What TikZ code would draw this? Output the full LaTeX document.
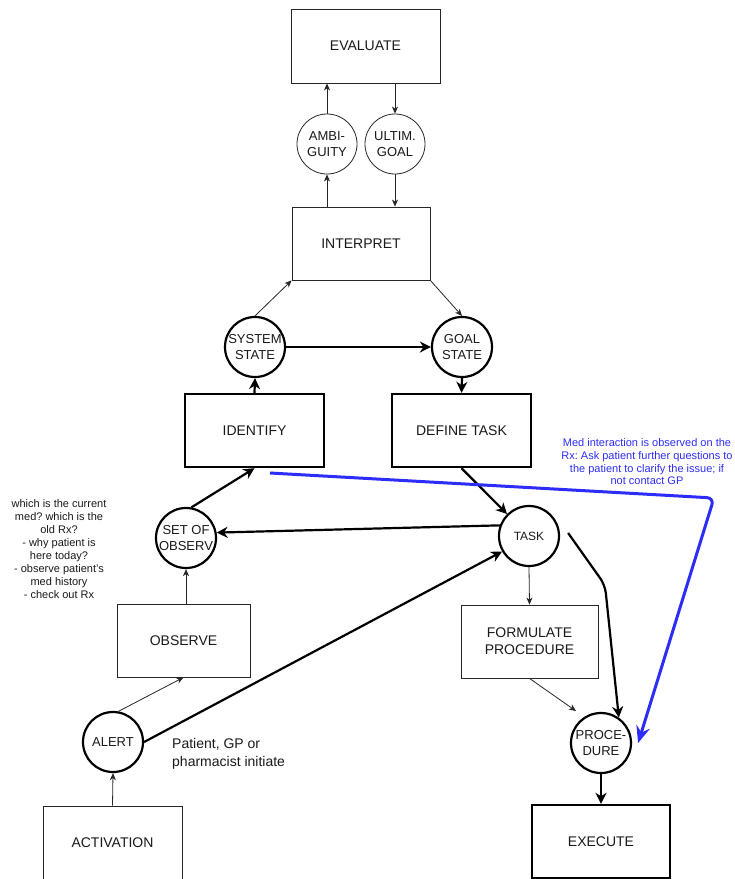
\documentclass[tikz,border=0pt]{standalone}
\usepackage{fontspec}
\setmainfont{Liberation Sans}
\usetikzlibrary{arrows.meta}
\definecolor{noteblue}{RGB}{45,45,250}
\frenchspacing
\begin{document}
\begin{tikzpicture}[x=1pt,y=-1pt,
 thinbox/.style={draw=black!85,line width=0.8pt,minimum width=139pt,minimum height=73pt,font=\fontsize{14}{17}\selectfont,align=center,inner sep=0,text=black!90},
 thickbox/.style={thinbox,line width=2.4pt,draw=black},
 thincirc/.style={circle,draw=black!85,line width=0.8pt,minimum size=60pt,inner sep=0,font=\fontsize{13}{16}\selectfont,align=center,text=black!90},
 thickcirc/.style={thincirc,draw=black,line width=2.2pt},
 thinarr/.style={line width=0.8pt,draw=black!85,-{Stealth[length=7pt,width=6pt,inset=2pt]}},
 thickarr/.style={line width=2.2pt,-{Stealth[length=11pt,width=11pt,inset=3.5pt]}},
 bluearr/.style={line width=3pt,draw=noteblue,rounded corners=7pt,-{Stealth[length=17pt,width=14pt,inset=6pt]}},
 note/.style={font=\fontsize{11}{13}\selectfont,align=center,text=black!90}]
\useasboundingbox (0,0) rectangle (735,879);

% nodes
\node[thinbox,minimum width=149pt,minimum height=74pt] (eval) at (365.5,46) {EVALUATE};
\node[thincirc] (amb) at (327,144) {AMBI-\\GUITY};
\node[thincirc] (ult) at (395,144) {ULTIM.\\GOAL};
\node[thinbox,minimum width=138pt] (interp) at (361,243.5) {INTERPRET};
\node[thickcirc] (sys) at (255,347) {SYSTEM\\STATE};
\node[thickcirc] (goal) at (462,347) {GOAL\\STATE};
\node[thickbox] (ident) at (254.5,430.5) {IDENTIFY};
\node[thickbox] (deftask) at (461.5,430.5) {DEFINE TASK};
\node[thickcirc] (setobs) at (186,538) {SET OF\\OBSERV};
\node[thickcirc,font=\fontsize{12}{15}\selectfont] (task) at (529,536) {TASK};
\node[thinbox,minimum width=133pt] (obs) at (183.5,640.5) {OBSERVE};
\node[thinbox,minimum width=137pt] (form) at (529.5,641.5) {FORMULATE\\PROCEDURE};
\node[thickcirc] (alert) at (113,742) {ALERT};
\node[thickcirc] (proc) at (601,743) {PROCE-\\DURE};
\node[thinbox,minimum height=74pt] (act) at (112.5,843) {ACTIVATION};
\node[thickbox,minimum width=138pt] (exec) at (601,841.5) {EXECUTE};

% texts
\node[note,font=\fontsize{11}{12.7}\selectfont,text=noteblue] (bluetxt) at (647,462)
 {Med interaction is observed on the\\Rx: Ask patient further questions to\\the patient to clarify the issue; if\\not contact GP};
\node[note,font=\fontsize{11}{13.1}\selectfont] (lefttxt) at (59,549)
 {which is the current\\med? which is the\\old Rx?\\- why patient is\\here today?\\- observe patient's\\med history\\- check out Rx};
\node[anchor=west,align=left,font=\fontsize{14}{18}\selectfont,text=black!90,inner sep=0] (init) at (172,754)
 {Patient, GP or\\pharmacist initiate};

% connectors
\draw[thinarr] (amb.south |- interp.north) -- (amb.south);
\draw[thinarr] (amb.north) -- (amb.north |- eval.south);
\draw[thinarr] (ult.north |- eval.south) -- (ult.north);
\draw[thinarr] (ult.south) -- (ult.south |- interp.north);
\draw[thinarr] (sys.north) -- (interp.south west);
\draw[thinarr] (interp.south east) -- (goal.north);
\draw[thickarr] (sys.east) -- (goal.west);
\draw[thickarr] (ident.north) -- (sys.south);
\draw[thickarr] (goal.south) -- (deftask.north);
\draw[thickarr] (setobs.80) -- (ident.south);
\draw[thickarr] (deftask.south) -- (task);
\draw[thickarr] (task.160) -- (setobs.10);
\draw[thinarr] (setobs.south |- obs.north) -- (setobs.south);
\draw[thinarr] (alert.80) -- (obs.south);
\draw[thickarr] (alert.east) -- (task.210);
\draw[thinarr] (act.north) -- (alert.south);
\draw[thinarr] (task.south) -- (form.north);
\draw[thinarr] (form.south) -- ([shift={(-3,-10)}]proc.north west);
\draw[thickarr,rounded corners=8pt] ([shift={(8,-3)}]task.east) -- (605,585) -- (proc.55);
\draw[thickarr] (proc.south) -- (exec.north);
\coordinate (bstart) at (270,473);
\coordinate (bcorner) at (714,498);
\draw[bluearr] (bstart) -- (bcorner) -- ([shift={(6,0)}]proc.east);
\end{tikzpicture}
\end{document}
